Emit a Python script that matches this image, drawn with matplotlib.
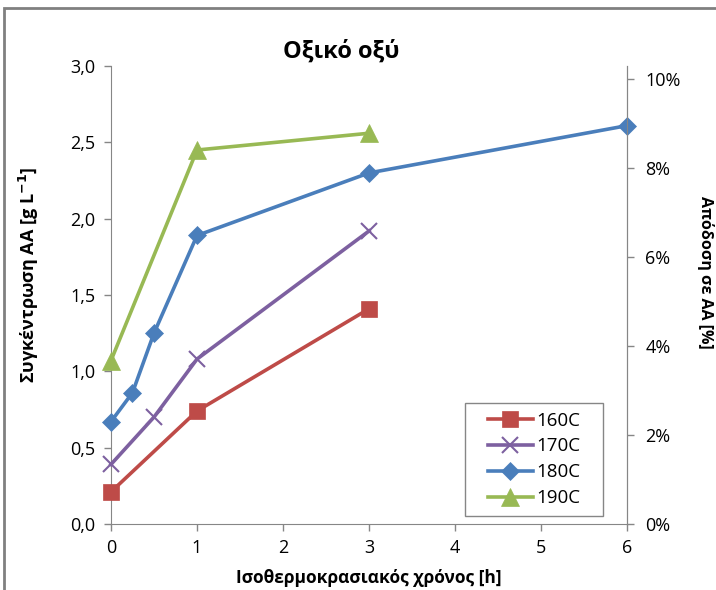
import matplotlib
matplotlib.use("Agg")
import matplotlib.pyplot as plt
from matplotlib.patches import Rectangle

plt.rcParams['font.family'] = ['Open Sans', 'DejaVu Sans']

# Concentration of acetic acid [g/L] against isothermal time [h]
t_160 = [0, 1, 3]
c_160 = [0.21, 0.74, 1.41]
t_170 = [0, 0.5, 1, 3]
c_170 = [0.39, 0.70, 1.08, 1.92]
t_180 = [0, 0.25, 0.5, 1, 3, 6]
c_180 = [0.67, 0.86, 1.25, 1.89, 2.30, 2.61]
t_190 = [0, 1, 3]
c_190 = [1.07, 2.45, 2.56]

labels = ['160C', '170C', '180C', '190C']
colors = ['#BE4B48', '#7D60A0', '#4A7EBB', '#98B954']
markers = ['s', 'x', 'D', '^']
msizes = [12, 12, 9, 13]

y_ticks = [0.0, 0.5, 1.0, 1.5, 2.0, 2.5, 3.0]
y_ticklabels = ['0,0', '0,5', '1,0', '1,5', '2,0', '2,5', '3,0']
yield_ticks = [0, 0.02, 0.04, 0.06, 0.08, 0.10]
yield_ticklabels = ['0%', '2%', '4%', '6%', '8%', '10%']

fig = plt.figure(figsize=(7.16, 5.90), dpi=100)
ax = fig.add_axes([0.155, 0.112, 0.721, 0.776])

series = [(t_160, c_160), (t_170, c_170), (t_180, c_180), (t_190, c_190)]
for (t, c), lab, col, mk, ms in zip(series, labels, colors, markers, msizes):
    ax.plot(t, c, color=col, lw=2.6, marker=mk, markersize=ms,
            markeredgewidth=1.5 if mk == 'x' else 0.5, markeredgecolor=col,
            label=lab, clip_on=False, zorder=3)

grey = '#868686'
ax.set_xlim(0, 6)
ax.set_ylim(0, 3.0)
ax.set_xticks(range(7))
ax.set_yticks(y_ticks)
ax.set_yticklabels(y_ticklabels)
ax.tick_params(labelsize=13, colors='#000000', length=5, width=1, pad=6)
ax.tick_params(axis='both', color=grey)
ax.spines['top'].set_visible(False)
for s in ['left', 'bottom', 'right']:
    ax.spines[s].set_color(grey)

ax2 = ax.twinx()
ax2.set_ylim(0, 0.1029)
ax2.set_yticks(yield_ticks)
ax2.set_yticklabels(yield_ticklabels)
ax2.tick_params(labelsize=13, length=5, width=1, color=grey, pad=8)
ax2.spines['top'].set_visible(False)
ax2.spines['left'].set_visible(False)
ax2.spines['bottom'].set_visible(False)
ax2.spines['right'].set_color(grey)

fig.text(0.476, 0.913, 'Οξικό οξύ', ha='center', va='center',
         fontsize=17, fontweight='bold')
fig.text(0.04, 0.534, r'Συγκέντρωση AA [g L$^{\mathbf{-1}}$]', rotation=90,
         ha='center', va='center', fontsize=13, fontweight='bold')
fig.text(0.985, 0.539, 'Απόδοση σε AA [%]', rotation=-90,
         ha='center', va='center', fontsize=11.5, fontweight='bold')
fig.text(0.515, 0.02, 'Ισοθερμοκρασιακός χρόνος [h]', ha='center',
         va='center', fontsize=12.5, fontweight='bold')

# legend frame drawn separately so its width can be set freely
ax.add_patch(Rectangle((0.686, 0.0175), 0.267, 0.2465, transform=ax.transAxes,
                       facecolor='white', edgecolor=grey, lw=1, zorder=4))
leg = ax.legend(loc='center', bbox_to_anchor=(0.82, 0.141),
                fontsize=13.5, frameon=False, handlelength=2.4,
                borderpad=0, labelspacing=0.42, handletextpad=0.2)
leg.set_zorder(5)

# outer chart border
fig.patches.append(Rectangle((0.006, -0.05), 1.1, 1.036, transform=fig.transFigure,
                             fill=False, edgecolor='#808080', lw=2))

fig.savefig('out.png', dpi=100, facecolor='white')
